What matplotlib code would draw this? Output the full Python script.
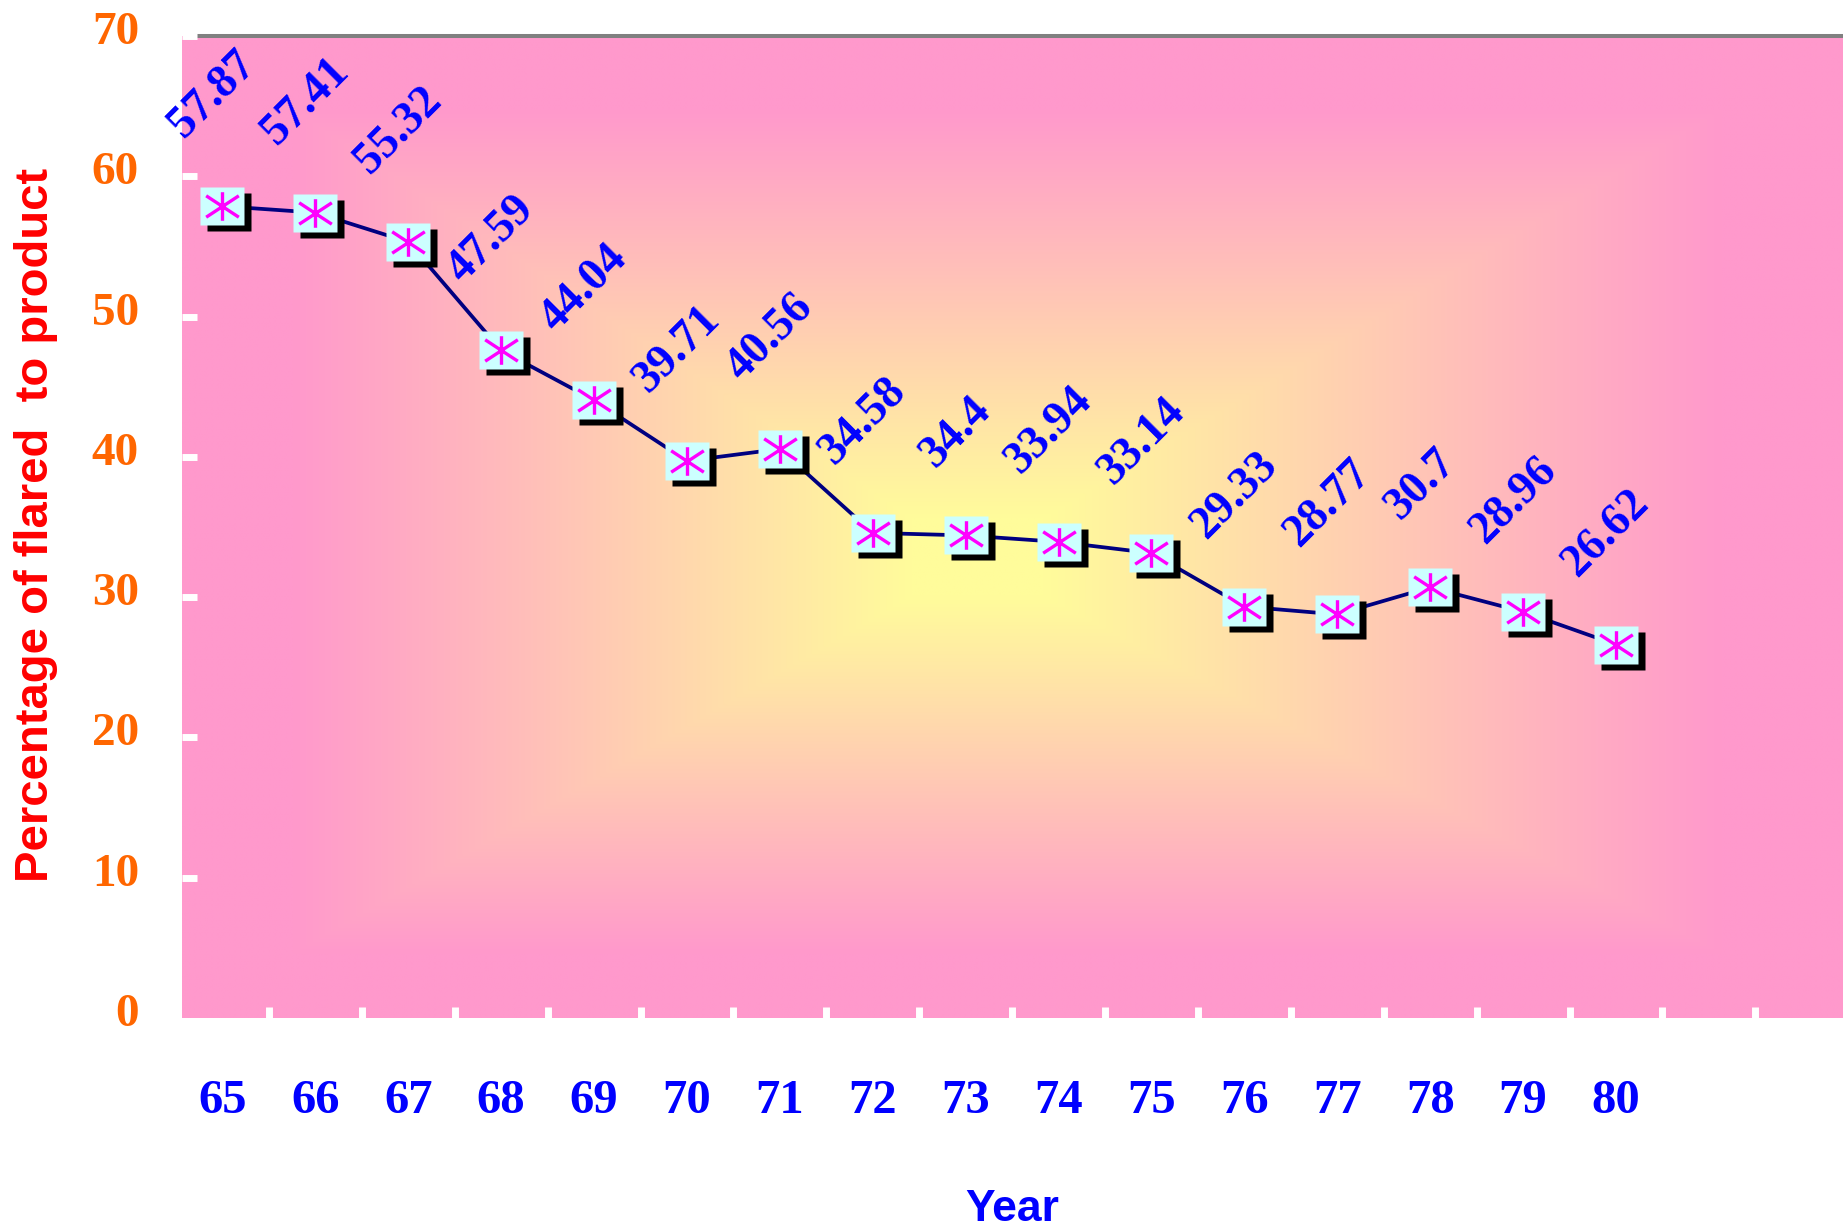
import numpy as np
import matplotlib
matplotlib.use("Agg")
import matplotlib.pyplot as plt
from matplotlib.path import Path
from matplotlib import transforms

# data
years = ["65", "66", "67", "68", "69", "70", "71", "72",
         "73", "74", "75", "76", "77", "78", "79", "80"]
flared_pct = [57.87, 57.41, 55.32, 47.59, 44.04, 39.71, 40.56, 34.58,
              34.4, 33.94, 33.14, 29.33, 28.77, 30.7, 28.96, 26.62]
n_slots = 18          # category slots on the axis (last two are empty)
y_ticks = [0, 10, 20, 30, 40, 50, 60, 70]

serif = "Liberation Serif"
sans = "Liberation Sans"

W, H = 1843, 1228
fig = plt.figure(figsize=(W / 100, H / 100), dpi=100)
ax = fig.add_axes([182 / W, (H - 1018) / H, (W - 182) / W, (1018 - 36) / H])

# category axis: slot width ~92.9 px, first slot starts at x=176
slot = 92.9
x0 = -0.5 + (182 - 176) / slot
x1 = -0.5 + (W - 176) / slot
ax.set_xlim(x0, x1)
ax.set_ylim(0, 70)

# background: rectangular gradient from centre (pale yellow) to edges (pink)
gw, gh = 800, 500
cx, cy = (975 - 182) / (W - 182), (1018 - 560) / (1018 - 36)
gx = np.linspace(0, 1, gw)
gy = np.linspace(0, 1, gh)
X, Y = np.meshgrid(gx, gy)
dx = np.where(X < cx, (cx - X) / cx, (X - cx) / (1 - cx))
dy = np.where(Y < cy, (cy - Y) / cy, (Y - cy) / (1 - cy))
t = np.clip((np.maximum(dx, dy) - 0.08) / 0.78, 0, 1)
c_in = np.array([255, 252, 155]) / 255
c_out = np.array([255, 153, 204]) / 255
img = c_in[None, None, :] * (1 - t[..., None]) + c_out[None, None, :] * t[..., None]
ax.imshow(img, extent=(0, 1, 0, 1), transform=ax.transAxes, origin="lower",
          aspect="auto", zorder=0, interpolation="bilinear")

for s in ax.spines.values():
    s.set_visible(False)
ax.axhline(70, xmin=(197 - 182) / (W - 182), xmax=1, color="#808080",
           lw=2.9, clip_on=False, zorder=1)

xs = np.arange(len(years))

# line
ax.plot(xs, flared_pct, color="#000080", lw=2.7, zorder=2)

# markers: shadowed light-cyan box with a magenta asterisk
box = Path([(-22, -19), (22, -19), (22, 19), (-22, 19), (-22, -19)],
           [Path.MOVETO, Path.LINETO, Path.LINETO, Path.LINETO, Path.CLOSEPOLY])
star = Path([(0, -14), (0, 14), (-16, -10.5), (16, 10.5), (-16, 10.5), (16, -10.5)],
            [Path.MOVETO, Path.LINETO] * 3)
shadow_tr = transforms.offset_copy(ax.transData, fig=fig, x=7, y=-6, units="dots")
ax.plot(xs, flared_pct, ls="none", marker=box, ms=31.7, mfc="black", mec="none",
        transform=shadow_tr, zorder=3)
ax.plot(xs, flared_pct, ls="none", marker=box, ms=31.7, mfc="#CCFFFF", mec="none",
        zorder=4)
ax.plot(xs, flared_pct, ls="none", marker=star, ms=23.5, mfc="none", mec="#FF00FF",
        mew=2.4, zorder=5)

# data labels
for x, v in zip(xs, flared_pct):
    ax.annotate(f"{v:g}", (x, v), xytext=(-7, 43), textcoords="offset points",
                ha="center", va="bottom", rotation=45, color="#0000FF",
                fontsize=33, fontweight="bold", family=serif, zorder=6)

# y axis
ax.set_yticks(y_ticks)
ax.set_yticklabels([str(v) for v in y_ticks])
ax.tick_params(axis="y", direction="in", length=10.8, width=5, color="white",
               pad=31, labelsize=34, labelcolor="#FF6600")
ax.yaxis.get_major_ticks()[0].tick1line.set_visible(False)
for lab in ax.get_yticklabels():
    lab.set_fontfamily(serif)
    lab.set_fontweight("bold")
    lab.set_transform(lab.get_transform() +
                      transforms.ScaledTranslation(0, 8 / 100, fig.dpi_scale_trans))

# x axis
ax.set_xticks(xs)
ax.set_xticklabels(years)
ax.set_xticks(np.arange(0.5, n_slots - 1, 1.0), minor=True)
ax.tick_params(axis="x", which="major", length=0, pad=44, labelsize=35,
               labelcolor="#0000FF")
ax.tick_params(axis="x", which="minor", direction="in", length=8, width=5,
               color="white")
for lab in ax.get_xticklabels():
    lab.set_fontfamily(serif)
    lab.set_fontweight("bold")

fig.text(36 / W, 1 - 525 / H, "Percentage of flared  to product", rotation=90,
         ha="center", va="center", color="#FF0000", fontsize=34,
         fontweight="bold", family=sans)
fig.text(1012 / W, 1 - 1221 / H, "Year", ha="center", va="baseline",
         color="#0000FF", fontsize=32, fontweight="bold", family=sans)

fig.savefig("out.png", dpi=100, facecolor="white")
